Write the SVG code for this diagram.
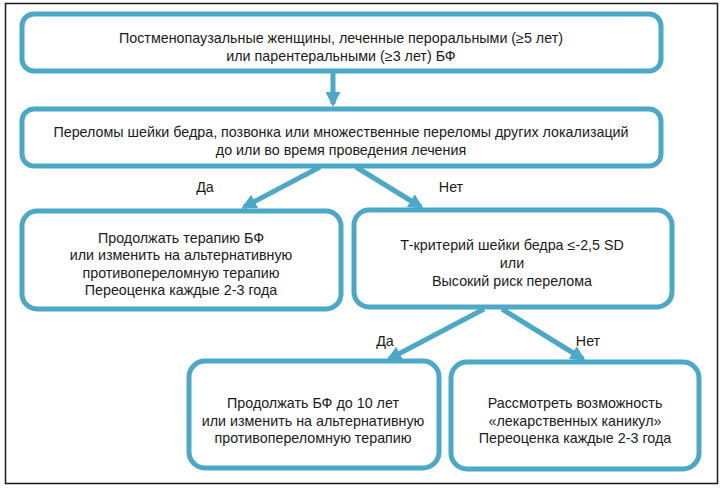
<svg xmlns="http://www.w3.org/2000/svg" width="723" height="488" viewBox="0 0 723 488">
<defs>
<style>
.box{fill:#ffffff;stroke:#4ba8c6;stroke-width:5}
.t{font-family:"Liberation Sans","Noto Sans",Arial,sans-serif;font-size:14.3px;fill:#1a1a1a;text-anchor:middle}
.c{stroke:#4ba8c6;stroke-width:5;fill:none}
.lbl{font-family:"Liberation Sans","Noto Sans",Arial,sans-serif;font-size:14.3px;fill:#1a1a1a;text-anchor:middle}
</style>
<marker id="ah" viewBox="0 0 10 10" refX="8" refY="5" markerWidth="3" markerHeight="3" orient="auto" markerUnits="strokeWidth">
<path d="M0,0 L10,5 L0,10 z" fill="#4ba8c6"/>
</marker>
</defs>
<rect x="5.5" y="3.5" width="712" height="480" fill="#ffffff" stroke="#1a1a1a" stroke-width="1.5"/>
<g id="connectors">
<line class="c" x1="333" y1="72" x2="333" y2="104" marker-end="url(#ah)"/>
<line class="c" x1="320" y1="167" x2="244" y2="207" marker-end="url(#ah)"/>
<line class="c" x1="356" y1="167" x2="421" y2="207" marker-end="url(#ah)"/>
<line class="c" x1="484" y1="309" x2="389" y2="359" marker-end="url(#ah)"/>
<line class="c" x1="502" y1="309" x2="583" y2="359" marker-end="url(#ah)"/>
<text class="lbl" x="205" y="192">Да</text>
<text class="lbl" x="451" y="192">Нет</text>
<text class="lbl" x="385" y="346">Да</text>
<text class="lbl" x="588" y="346">Нет</text>
</g>
<g id="n1">
<rect class="box" x="22" y="14" width="639" height="57" rx="12"/>
<text class="t" x="341" y="43">Постменопаузальные женщины, леченные пероральными (≥5 лет)</text>
<text class="t" x="341" y="61">или парентеральными (≥3 лет) БФ</text>
</g>
<g id="n2">
<rect class="box" x="22" y="109" width="639" height="57" rx="12"/>
<text class="t" x="341" y="137">Переломы шейки бедра, позвонка или множественные переломы других локализаций</text>
<text class="t" x="341" y="155">до или во время проведения лечения</text>
</g>
<g id="n3">
<rect class="box" x="22" y="211" width="319" height="98" rx="15"/>
<text class="t" x="181" y="243">Продолжать терапию БФ</text>
<text class="t" x="181" y="260">или изменить на альтернативную</text>
<text class="t" x="181" y="278">противопереломную терапию</text>
<text class="t" x="181" y="295">Переоценка каждые 2-3 года</text>
</g>
<g id="n4">
<rect class="box" x="354" y="210" width="318" height="97" rx="15"/>
<text class="t" x="512" y="250">Т-критерий шейки бедра ≤-2,5 SD</text>
<text class="t" x="512" y="268">или</text>
<text class="t" x="512" y="286">Высокий риск перелома</text>
</g>
<g id="n5">
<rect class="box" x="189" y="361" width="250" height="107" rx="16"/>
<text class="t" x="313" y="408">Продолжать БФ до 10 лет</text>
<text class="t" x="313" y="426">или изменить на альтернативную</text>
<text class="t" x="313" y="443">противопереломную терапию</text>
</g>
<g id="n6">
<rect class="box" x="451" y="362" width="248" height="107" rx="16"/>
<text class="t" x="575" y="408">Рассмотреть возможность</text>
<text class="t" x="575" y="426">«лекарственных каникул»</text>
<text class="t" x="575" y="443">Переоценка каждые 2-3 года</text>
</g>
</svg>
